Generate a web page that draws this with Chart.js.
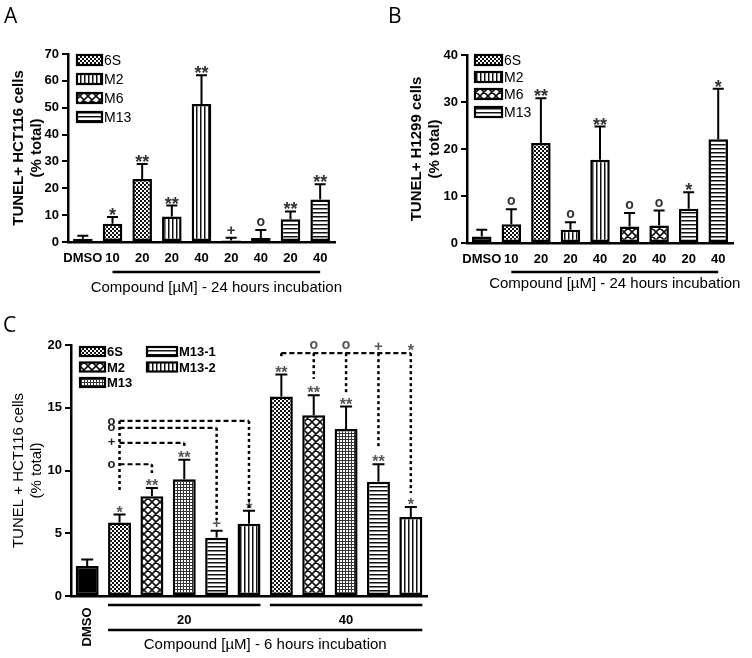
<!DOCTYPE html>
<html>
<head>
<meta charset="utf-8">
<script src="https://cdn.jsdelivr.net/npm/chart.js@4.4.1/dist/chart.umd.min.js"></script>
<style>
body { margin: 0; background: #fff; }
#wrap { position: relative; width: 752px; height: 658px; background: #fff; }
#wrap canvas { position: absolute; }
</style>
</head>
<body>
<div id="wrap">
  <canvas id="graficoA" width="376" height="310" style="left:0;top:0;width:376px;height:310px"></canvas>
  <canvas id="graficoB" width="376" height="310" style="left:376px;top:0;width:376px;height:310px"></canvas>
  <canvas id="graficoC" width="470" height="348" style="left:0;top:310px;width:470px;height:348px"></canvas>
</div>
<script>
// ---- panel A : HCT116, 24 h ----
var aLabels = ['DMSO', '10', '20', '20', '40', '20', '40', '20', '40'];
var aCompounds = ['DMSO', '6S', '6S', 'M2', 'M2', 'M6', 'M6', 'M13', 'M13'];
var aValues = [1.2, 6.8, 23.5, 9.5, 51.4, 0.6, 1.5, 8.5, 15.8];
var aErrors = [1.1, 2.5, 5.5, 4.1, 10.7, 1.0, 3.0, 2.9, 5.7];
var aSig = ['', '*', '**', '**', '**', '+', 'o', '**', '**'];
var aLegend = ['6S', 'M2', 'M6', 'M13'];
var aYTitle = ['TUNEL+ HCT116 cells', '(% total)'];
var aXTitle = 'Compound [\u00B5M] - 24 hours incubation';

// ---- panel B : H1299, 24 h ----
var bLabels = ['DMSO', '10', '20', '20', '40', '20', '40', '20', '40'];
var bCompounds = ['DMSO', '6S', '6S', 'M2', 'M2', 'M6', 'M6', 'M13', 'M13'];
var bValues = [1.4, 4.0, 21.3, 2.8, 17.7, 3.5, 3.7, 7.3, 22.1];
var bErrors = [1.4, 3.2, 9.5, 1.6, 7.1, 2.9, 3.2, 3.5, 10.7];
var bSig = ['', 'o', '**', 'o', '**', 'o', 'o', '*', '*'];
var bLegend = ['6S', 'M2', 'M6', 'M13'];
var bYTitle = ['TUNEL+ H1299 cells', '(% total)'];
var bXTitle = 'Compound [\u00B5M] - 24 hours incubation';

// ---- panel C : HCT116, 6 h ----
var cLabels = ['DMSO', '20', '20', '20', '20', '20', '40', '40', '40', '40', '40'];
var cCompounds = ['DMSO', '6S', 'M2', 'M13', 'M13-1', 'M13-2', '6S', 'M2', 'M13', 'M13-1', 'M13-2'];
var cValues = [2.4, 5.85, 7.95, 9.3, 4.65, 5.75, 15.9, 14.4, 13.3, 9.1, 6.3];
var cErrors = [0.5, 0.65, 0.65, 1.55, 0.55, 1.05, 1.75, 1.6, 1.8, 1.4, 0.8];
var cSig = ['', '*', '**', '**', '+', '*', '**', '**', '**', '**', '*'];
var cLegend = ['6S', 'M2', 'M13', 'M13-1', 'M13-2'];
var cYTitle = ['TUNEL + HCT116 cells', '(% total)'];
var cXTitle = 'Compound [\u00B5M] - 6 hours incubation';

// comparison brackets (y values in % total)
var c20Targets = [2, 3, 4, 5];
var c20Levels = [10.5, 12.2, 13.4, 13.95];
var c20Ends = [9.8, 11.8, 6.05, 7.0];
var c20Marks = ['o', '+', 'o', 'o'];
var c20SourceEnd = 8.2;
var c40Targets = [7, 8, 9, 10];
var c40Level = 19.35;
var c40Ends = [17.3, 16.0, 11.8, 8.2];
var c40Marks = ['o', 'o', '+', '*'];
var c40SourceEnd = 19.0;

var FONT = '"Liberation Sans", Arial, sans-serif';

function makePattern(kind) {
    var c = document.createElement('canvas');
    var g = c.getContext('2d');
    var s = 4;
    if (kind == 'diamond') s = 8;
    if (kind == 'grid') s = 3;
    c.width = s;
    c.height = s;
    g.fillStyle = '#fff';
    g.fillRect(0, 0, s, s);
    g.fillStyle = '#111';
    if (kind == 'dots') {
        g.fillRect(0, 0, 2, 2);
        g.fillRect(2, 2, 2, 2);
    } else if (kind == 'vlines') {
        g.fillRect(0, 0, 1, s);
        g.fillStyle = '#888';
        g.fillRect(1, 0, 1, s);
    } else if (kind == 'hlines') {
        g.fillRect(0, 0, s, 1);
        g.fillStyle = '#888';
        g.fillRect(0, 1, s, 1);
    } else if (kind == 'grid') {
        g.fillStyle = '#333';
        g.fillRect(0, 0, s, 1);
        g.fillRect(0, 0, 1, s);
    } else if (kind == 'diamond') {
        g.strokeStyle = '#111';
        g.lineWidth = 1.6;
        g.beginPath();
        for (var k = -8; k <= 8; k += 8) {
            g.moveTo(k, 0); g.lineTo(k + 8, 8);
            g.moveTo(k + 8, 0); g.lineTo(k, 8);
        }
        g.stroke();
    }
    return g.createPattern(c, 'repeat');
}

var fillsAB = { 'DMSO': '#000', '6S': makePattern('dots'), 'M2': makePattern('vlines'), 'M6': makePattern('diamond'), 'M13': makePattern('hlines') };
var fillsC = { 'DMSO': '#000', '6S': makePattern('dots'), 'M2': makePattern('diamond'), 'M13': makePattern('grid'), 'M13-1': makePattern('hlines'), 'M13-2': makePattern('vlines') };

var panels = {
    A: {
        letter: 'A', letterPos: [4, 23],
        labels: aLabels, compounds: aCompounds, values: aValues, errors: aErrors, sig: aSig,
        fills: fillsAB, yMax: 70, yStep: 10, yTitle: aYTitle, xTitle: aXTitle,
        yWidth: 68, xHeight: 68, padding: { top: 54, right: 41, left: 0, bottom: 0 },
        yTitleFont: 'bold', yTitlePad: 10, barPct: 0.66, cap: 5.5, starSize: 18, markColor: '#333',
        legend: aLegend, legendX: [77, 77, 77, 77], legendY: [60, 79, 98, 117], legendBox: [25, 10], legendFont: '14px ' + FONT,
        showTicks: true,
        lines: [{ from: 1, to: 8, dy: 30, edge: false }], titleDy: 46
    },
    B: {
        letter: 'B', letterPos: [12, 23],
        labels: bLabels, compounds: bCompounds, values: bValues, errors: bErrors, sig: bSig,
        fills: fillsAB, yMax: 40, yStep: 10, yTitle: bYTitle, xTitle: bXTitle,
        yWidth: 91, xHeight: 67, padding: { top: 55, right: 19, left: 0, bottom: 0 },
        yTitleFont: 'bold', yTitlePad: 32, barPct: 0.66, cap: 5.5, starSize: 18, markColor: '#333',
        legend: bLegend, legendX: [99, 99, 99, 99], legendY: [60, 77, 94, 112], legendBox: [27, 10], legendFont: '14px ' + FONT,
        showTicks: true,
        lines: [{ from: 1, to: 8, dy: 29, edge: false }], titleDy: 41
    },
    C: {
        letter: 'C', letterPos: [3, 22],
        labels: cLabels, compounds: cCompounds, values: cValues, errors: cErrors, sig: cSig,
        fills: fillsC, yMax: 20, yStep: 5, yTitle: cYTitle, xTitle: cXTitle,
        yWidth: 71, xHeight: 62, padding: { top: 35, right: 43, left: 0, bottom: 0 },
        yTitleFont: 'normal', yTitlePad: 10, barPct: 0.71, cap: 6, starSize: 16, markColor: '#555',
        legend: cLegend, legendX: [80, 80, 80, 147, 147], legendY: [41.5, 57, 72.5, 41.5, 57], legendBox: [25, 9], legendFont: 'bold 13px ' + FONT,
        showTicks: false,
        lines: [{ from: 1, to: 5, dy: 9, edge: true }, { from: 6, to: 10, dy: 9, edge: true }, { from: 1, to: 10, dy: 34, edge: true }],
        groups: [{ from: 1, to: 5, dy: 24 }, { from: 6, to: 10, dy: 24 }],
        titleDy: 49, brackets: true
    }
};

function drawMark(ctx, txt, x, yBottom, p) {
    if (!txt) return;
    ctx.textAlign = 'center';
    ctx.textBaseline = 'alphabetic';
    ctx.fillStyle = p.markColor;
    if (txt.charAt(0) == '*') {
        ctx.font = 'bold ' + p.starSize + 'px ' + FONT;
        ctx.fillText(txt, x, yBottom + p.starSize * 0.45);
    } else if (txt == '+') {
        ctx.font = 'bold 15px ' + FONT;
        ctx.fillText(txt, x, yBottom + 1.5);
    } else {
        ctx.font = 'bold 14px ' + FONT;
        ctx.fillText(txt, x, yBottom);
    }
}

function dashed(ctx, x1, y1, x2, y2, dash, w) {
    ctx.save();
    ctx.setLineDash(dash);
    ctx.lineWidth = w;
    ctx.strokeStyle = '#000';
    ctx.beginPath();
    ctx.moveTo(x1, y1);
    ctx.lineTo(x2, y2);
    ctx.stroke();
    ctx.restore();
}

var extrasPlugin = {
    id: 'extras',
    afterDraw: function (chart, args, opts) {
        var p = panels[opts.panel];
        var ctx = chart.ctx;
        var ys = chart.scales.y;
        var bars = chart.getDatasetMeta(0).data;
        var area = chart.chartArea;
        ctx.save();

        // error bars (upper) and significance marks
        ctx.strokeStyle = '#000';
        ctx.lineWidth = 2;
        for (var i = 0; i < p.values.length; i++) {
            var bx = bars[i].x;
            var yv = ys.getPixelForValue(p.values[i]);
            var ye = ys.getPixelForValue(p.values[i] + p.errors[i]);
            ctx.beginPath();
            ctx.moveTo(bx, yv);
            ctx.lineTo(bx, ye);
            ctx.moveTo(bx - p.cap, ye);
            ctx.lineTo(bx + p.cap, ye);
            ctx.stroke();
            drawMark(ctx, p.sig[i], bx, ye - 4, p);
        }

        // comparison brackets (panel C)
        if (p.brackets) {
            var sx = bars[1].x;
            var topY = ys.getPixelForValue(Math.max.apply(null, c20Levels));
            dashed(ctx, sx, topY, sx, ys.getPixelForValue(c20SourceEnd), [3, 3], 2.5);
            for (var j = 0; j < c20Targets.length; j++) {
                var ly = ys.getPixelForValue(c20Levels[j]);
                var tx = bars[c20Targets[j]].x;
                dashed(ctx, sx, ly, tx, ly, [5, 3], 2.2);
                dashed(ctx, tx, ly, tx, ys.getPixelForValue(c20Ends[j]), [3, 3], 2.5);
                ctx.textBaseline = 'middle';
                ctx.textAlign = 'center';
                ctx.fillStyle = '#222';
                ctx.font = 'bold 13px ' + FONT;
                ctx.fillText(c20Marks[j], sx - 8, ly);
            }
            var s40 = bars[6].x;
            var l40 = ys.getPixelForValue(c40Level);
            dashed(ctx, s40, l40, s40, ys.getPixelForValue(c40SourceEnd), [3, 3], 2.5);
            dashed(ctx, s40, l40, bars[c40Targets[c40Targets.length - 1]].x, l40, [5, 3], 2.2);
            for (var k = 0; k < c40Targets.length; k++) {
                var t40 = bars[c40Targets[k]].x;
                dashed(ctx, t40, l40, t40, ys.getPixelForValue(c40Ends[k]), [3, 3], 2.5);
                drawMark(ctx, c40Marks[k], t40, l40 - 4, p);
            }
        }

        // lines under the categories
        ctx.strokeStyle = '#000';
        ctx.lineWidth = 2.5;
        ctx.setLineDash([]);
        var mid = 0;
        for (var m = 0; m < p.lines.length; m++) {
            var ln = p.lines[m];
            var a = bars[ln.from], b = bars[ln.to];
            var x1 = ln.edge ? a.x - a.width / 2 : a.x;
            var x2 = ln.edge ? b.x + b.width / 2 : b.x;
            ctx.beginPath();
            ctx.moveTo(x1, area.bottom + ln.dy);
            ctx.lineTo(x2, area.bottom + ln.dy);
            ctx.stroke();
            mid = (x1 + x2) / 2;
        }

        // group labels (panel C)
        if (p.groups) {
            ctx.fillStyle = '#000';
            ctx.font = 'bold 13px ' + FONT;
            ctx.textAlign = 'center';
            ctx.textBaseline = 'middle';
            for (var q = 0; q < p.groups.length; q++) {
                var gr = p.groups[q];
                var gx = (bars[gr.from].x + bars[gr.to].x) / 2;
                ctx.fillText(p.labels[gr.from], gx, area.bottom + gr.dy);
            }
            // rotated DMSO under the first bar
            ctx.save();
            ctx.translate(bars[0].x, area.bottom + 31);
            ctx.rotate(-Math.PI / 2);
            ctx.fillText(p.labels[0], 0, 0);
            ctx.restore();
        }

        // x title centred on the last line
        ctx.fillStyle = '#000';
        ctx.font = '15px ' + FONT;
        ctx.textAlign = 'center';
        ctx.textBaseline = 'middle';
        ctx.fillText(p.xTitle, mid, area.bottom + p.titleDy);

        // legend
        ctx.font = p.legendFont;
        ctx.textAlign = 'left';
        for (var n = 0; n < p.legend.length; n++) {
            var bw = p.legendBox[0];
            if (p.legendX[n] > 120 && opts.panel == 'C') bw = 30;
            var lx = p.legendX[n], lyy = p.legendY[n] - p.legendBox[1] / 2;
            ctx.fillStyle = p.fills[p.legend[n]];
            ctx.fillRect(lx, lyy, bw, p.legendBox[1]);
            ctx.lineWidth = 2.2;
            ctx.strokeStyle = '#000';
            ctx.strokeRect(lx, lyy, bw, p.legendBox[1]);
            ctx.fillStyle = '#000';
            ctx.fillText(p.legend[n], lx + bw + 2, p.legendY[n] + 1);
        }

        // panel letter
        ctx.font = '21px "Open Sans", sans-serif';
        ctx.textBaseline = 'alphabetic';
        ctx.fillText(p.letter, p.letterPos[0], p.letterPos[1]);
        ctx.restore();
    }
};

function buildChart(canvasId, key) {
    var p = panels[key];
    var colors = [];
    for (var i = 0; i < p.compounds.length; i++) {
        colors.push(p.fills[p.compounds[i]]);
    }
    return new Chart(document.getElementById(canvasId), {
        type: 'bar',
        data: {
            labels: p.labels,
            datasets: [{
                data: p.values,
                backgroundColor: colors,
                borderColor: '#000',
                borderWidth: 2.5,
                borderSkipped: false,
                barPercentage: p.barPct,
                categoryPercentage: 1
            }]
        },
        plugins: [extrasPlugin],
        options: {
            responsive: false,
            animation: false,
            devicePixelRatio: 1,
            layout: { padding: p.padding },
            plugins: {
                legend: { display: false },
                tooltip: { enabled: false },
                extras: { panel: key }
            },
            scales: {
                x: {
                    grid: { display: false, drawTicks: false },
                    border: { display: true, color: '#000', width: 2.5 },
                    ticks: {
                        display: p.showTicks, color: '#000', padding: 9,
                        autoSkip: false, maxRotation: 0,
                        font: { family: FONT, size: 13, weight: 'bold' }
                    },
                    afterFit: function (s) { s.height = p.xHeight; }
                },
                y: {
                    min: 0,
                    max: p.yMax,
                    ticks: {
                        stepSize: p.yStep, color: '#000', padding: 3,
                        font: { family: FONT, size: 13, weight: 'bold' }
                    },
                    grid: { display: true, drawOnChartArea: false, drawTicks: true, tickLength: 6, color: '#000', lineWidth: 2 },
                    border: { display: true, color: '#000', width: 2.5 },
                    title: {
                        display: true, text: p.yTitle, color: '#000',
                        font: { family: FONT, size: 15, weight: p.yTitleFont, lineHeight: 1.2 },
                        padding: { top: p.yTitlePad, bottom: 0 }
                    },
                    afterFit: function (s) { s.width = p.yWidth; }
                }
            }
        }
    });
}

buildChart('graficoA', 'A');
buildChart('graficoB', 'B');
buildChart('graficoC', 'C');
</script>
</body>
</html>
